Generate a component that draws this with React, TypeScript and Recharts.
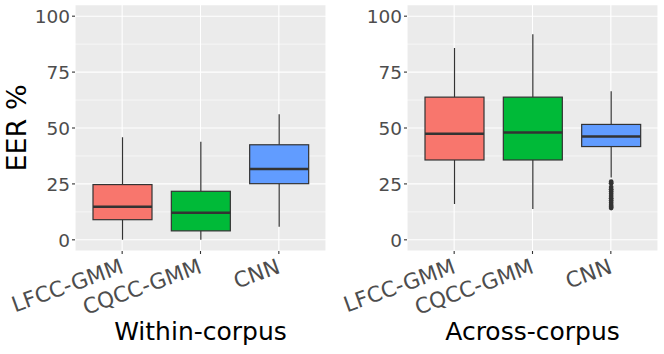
import { ComposedChart, Bar, XAxis, YAxis, CartesianGrid, Label } from "recharts";

const methods = ["LFCC-GMM", "CQCC-GMM", "CNN"];

// Within-corpus EER (%)
const withinLow = [0, 0, 5.8];
const withinQ1 = [9.0, 4.0, 25.1];
const withinMedian = [14.8, 12.1, 31.7];
const withinQ3 = [24.7, 21.7, 42.5];
const withinHigh = [45.9, 43.8, 56.2];
const withinOutliers: number[][] = [[], [], []];

// Across-corpus EER (%)
const acrossLow = [16.0, 13.8, 27.9];
const acrossQ1 = [35.7, 35.7, 41.7];
const acrossMedian = [47.4, 48.0, 46.2];
const acrossQ3 = [63.8, 63.8, 51.6];
const acrossHigh = [85.8, 91.9, 66.4];
const acrossOutliers: number[][] = [
  [],
  [],
  [26.0, 25.3, 23.6, 22.6, 21.6, 20.6, 19.6, 18.6, 17.6, 16.6, 15.6, 14.8, 14.2],
];

const yTicks = [0, 25, 50, 75, 100];
const yMinorTicks = [12.5, 37.5, 62.5, 87.5];
const allYTicks = [...yTicks, ...yMinorTicks].sort((a, b) => a - b);

const fills = ["#F8766D", "#00BA38", "#619CFF"];

function buildRows(low: number[], q1: number[], med: number[], q3: number[], high: number[], out: number[][]) {
  return methods.map((name, i) => ({
    name,
    low: low[i],
    q1: q1[i],
    median: med[i],
    q3: q3[i],
    high: high[i],
    outliers: out[i],
  }));
}

const withinRows = buildRows(withinLow, withinQ1, withinMedian, withinQ3, withinHigh, withinOutliers);
const acrossRows = buildRows(acrossLow, acrossQ1, acrossMedian, acrossQ3, acrossHigh, acrossOutliers);

const BoxShape = (props: any) => {
  const { x, y, width, height, payload, index } = props;
  const top = Math.min(y, y + height);
  const bottom = Math.max(y, y + height);
  const span = payload.high - payload.low;
  // linear map between the bar's pixel ends (library scale)
  const py = (v: number) => top + ((payload.high - v) / span) * (bottom - top);
  const cx = x + width / 2;
  return (
    <g>
      <line x1={cx} x2={cx} y1={py(payload.high)} y2={py(payload.q3)} stroke="#333333" strokeWidth={1.2} />
      <line x1={cx} x2={cx} y1={py(payload.q1)} y2={py(payload.low)} stroke="#333333" strokeWidth={1.2} />
      <rect
        x={x}
        y={py(payload.q3)}
        width={width}
        height={py(payload.q1) - py(payload.q3)}
        fill={fills[index % fills.length]}
        stroke="#333333"
        strokeWidth={1.2}
      />
      <line x1={x} x2={x + width} y1={py(payload.median)} y2={py(payload.median)} stroke="#333333" strokeWidth={2.6} />
      {payload.outliers.map((v: number, k: number) => (
        <circle key={k} cx={cx} cy={py(v)} r={2.4} fill="#333333" />
      ))}
    </g>
  );
};

const YTick = (props: any) => {
  const { x, y, payload } = props;
  if (!yTicks.includes(payload.value)) return <g />;
  return (
    <g>
      <line x1={x + 2} x2={x + 5} y1={y} y2={y} stroke="#333333" strokeWidth={1.1} />
      <text x={x} y={y} dy={6.7} textAnchor="end" fontSize={18.5} fill="#4D4D4D">
        {payload.value}
      </text>
    </g>
  );
};

const XTick = (props: any) => {
  const { x, y, payload } = props;
  return (
    <text transform={`translate(${x + 2.5},${y + 16.5}) rotate(-20)`} textAnchor="end" fontSize={21.5} fill="#4D4D4D">
      {payload.value}
    </text>
  );
};

const gridLine = (p: any) => (
  <line
    key={p.key}
    x1={p.x1}
    x2={p.x2}
    y1={p.y1}
    y2={p.y2}
    stroke="#FFFFFF"
    strokeWidth={p.index % 2 === 0 ? 1.1 : 0.55}
  />
);

const yTitle = (props: any) => {
  const vb = props.viewBox || { x: 0, y: 5, width: 75, height: 246 };
  return (
    <text
      transform={`translate(${vb.x + 26},${vb.y + vb.height / 2}) rotate(-90)`}
      textAnchor="middle"
      fontSize={27}
      fill="#000000"
    >
      EER %
    </text>
  );
};

function Panel({ rows, title, showYTitle }: { rows: any[]; title: string; showYTitle: boolean }) {
  return (
    <ComposedChart width={332} height={354} data={rows} margin={{ top: 5, right: 6, bottom: 0, left: 0 }}>
      <CartesianGrid fill="#EBEBEB" fillOpacity={1} stroke="#FFFFFF" strokeWidth={1.1} horizontal={gridLine} />
      <XAxis
        dataKey="name"
        height={103}
        padding={{ left: 8, right: 8 }}
        interval={0}
        axisLine={false}
        tickLine={{ stroke: "#333333", strokeWidth: 1.1 }}
        tickSize={3}
        tickMargin={2}
        tick={<XTick />}
      >
        <Label value={title} position="insideBottom" offset={14.5} fontSize={25} fill="#000000" />
      </XAxis>
      <YAxis
        width={75}
        domain={[-5, 105]}
        ticks={allYTicks}
        interval={0}
        allowDataOverflow
        axisLine={false}
        tickLine={false}
        tickSize={3}
        tickMargin={2}
        tick={<YTick />}
      >
        {showYTitle ? <Label content={yTitle} /> : null}
      </YAxis>
      <Bar
        dataKey={(d: any) => [d.low, d.high]}
        barSize={59}
        shape={<BoxShape />}
        isAnimationActive={false}
      />
    </ComposedChart>
  );
}

export default function App() {
  return (
    <div
      style={{
        position: "absolute",
        left: 0,
        top: 0,
        width: 664,
        height: 354,
        background: "#FFFFFF",
        display: "flex",
        fontFamily: "'DejaVu Sans', sans-serif",
      }}
    >
      <Panel rows={withinRows} title="Within-corpus" showYTitle />
      <Panel rows={acrossRows} title="Across-corpus" showYTitle={false} />
    </div>
  );
}
